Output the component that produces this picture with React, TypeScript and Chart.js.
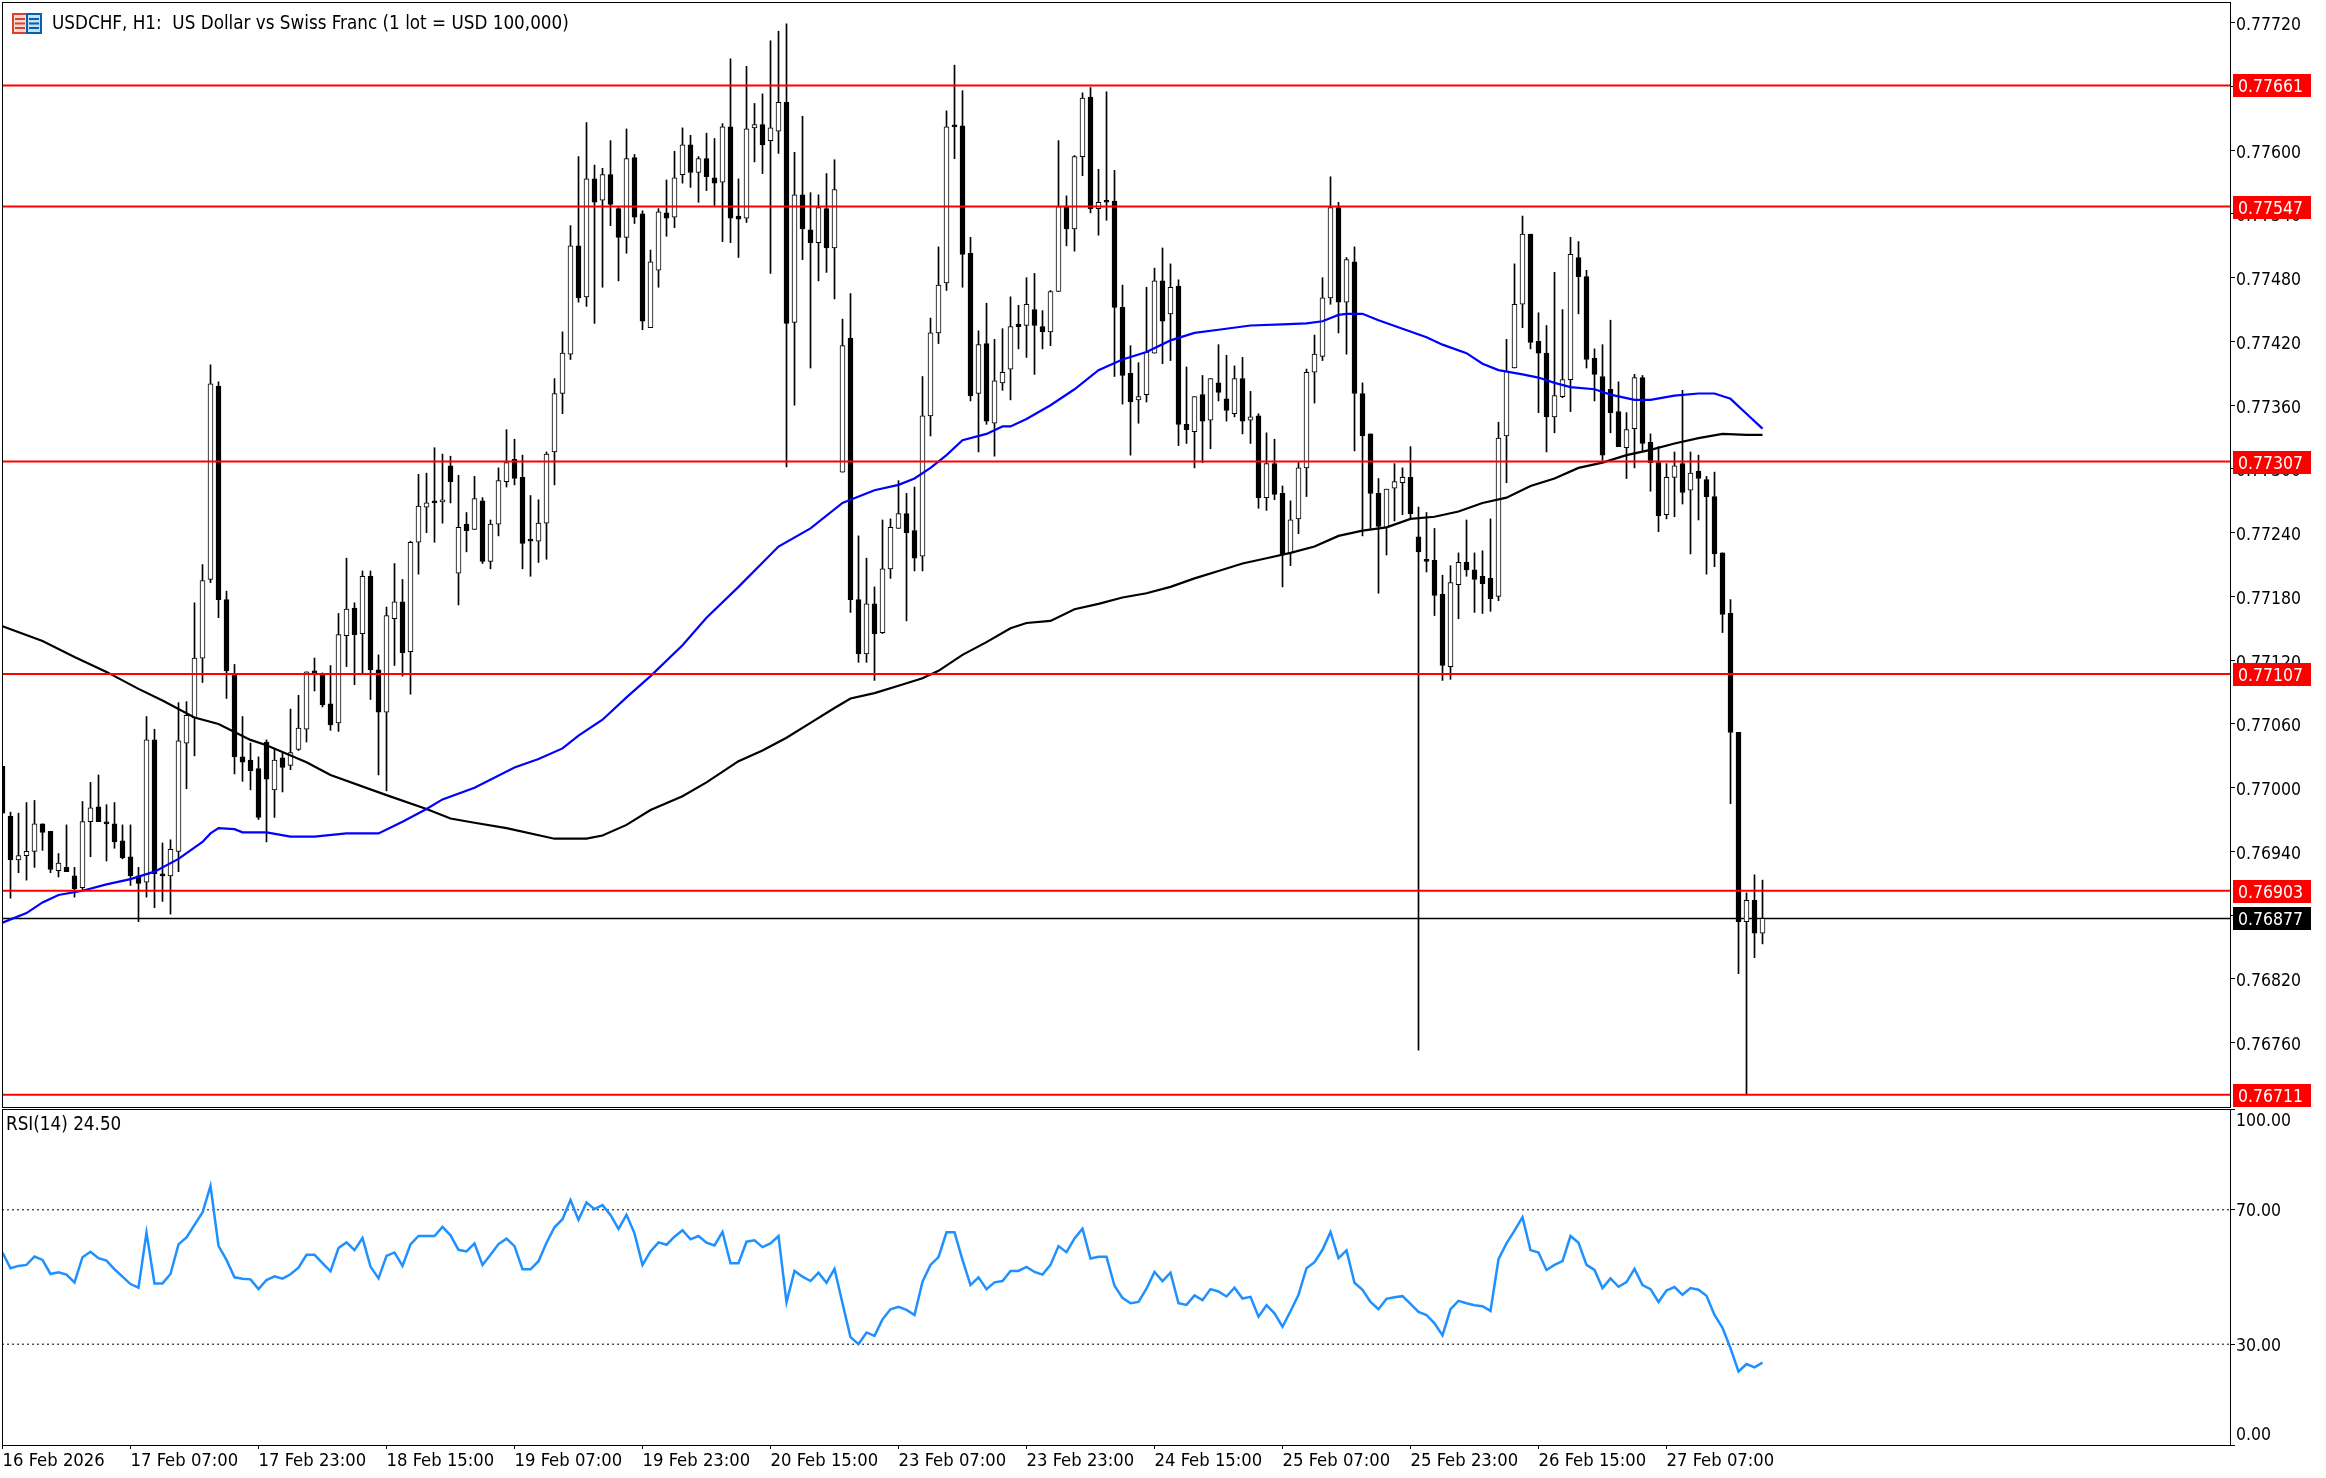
import React, { useEffect, useRef } from "react";
import { Chart, registerables } from "chart.js";

Chart.register(...registerables);

// Prices are kept in 1/100000 of a franc (77020 = 0.77020)
const opens = [
77020,76973,76932,76936,76940,76966,76959,76922,76925,76917,
76906,76968,76982,76967,76966,76950,76935,76917,76911,77045,
76919,76917,76940,77042,77066,77122,77196,77378,77177,77106,
77029,77026,77018,77043,76998,77028,77021,77036,77055,77109,
77107,77079,77061,77143,77169,77145,77199,77111,77071,77159,
77175,77128,77231,77264,77269,77269,77303,77202,77248,77243,
77270,77213,77248,77288,77309,77292,77233,77232,77249,77316,
77371,77408,77510,77462,77573,77553,77577,77545,77518,77593,
77540,77433,77487,77541,77537,77577,77605,77579,77592,77574,
77570,77622,77538,77536,77621,77624,77609,77618,77645,77438,
77558,77525,77513,77545,77508,77297,77423,77177,77126,77173,
77146,77206,77244,77258,77242,77218,77350,77428,77475,77623,
77623,77503,77371,77418,77343,77381,77394,77436,77435,77450,
77434,77429,77467,77547,77526,77594,77650,77545,77552,77552,
77452,77390,77365,77370,77409,77477,77446,77472,77342,77335,
77370,77346,77381,77366,77352,77385,77346,77350,77273,77305,
77277,77221,77253,77301,77391,77406,77461,77546,77457,77495,
77371,77333,77277,77245,77282,77287,77292,77236,77214,77214,
77182,77114,77191,77212,77205,77199,77197,77180,77331,77395,
77455,77521,77420,77409,77349,77368,77384,77499,77481,77404,
77387,77375,77354,77320,77338,77386,77325,77306,77257,77292,
77305,77280,77298,77290,77274,77221,77164,77052,76874,76894,
76863];

const closes = [
76976,76932,76936,76940,76966,76958,76923,76929,76921,76905,
76968,76981,76968,76966,76949,76934,76917,76910,77045,76919,
76917,76942,77044,77068,77122,77195,77380,77177,77110,77029,
77024,77016,76972,77008,77026,77019,77033,77056,77109,77108,
77078,77059,77144,77168,77144,77199,77111,77071,77162,77175,
77127,77231,77265,77268,77268,77270,77288,77245,77242,77272,
77213,77248,77289,77306,77291,77230,77232,77249,77314,77371,
77409,77510,77461,77573,77551,77577,77549,77518,77592,77537,
77439,77495,77542,77536,77574,77605,77579,77592,77575,77569,
77622,77536,77535,77620,77624,77605,77621,77645,77437,77558,
77526,77513,77546,77508,77563,77416,77177,77126,77173,77145,
77206,77245,77258,77240,77216,77350,77428,77473,77622,77622,
77502,77369,77417,77345,77383,77391,77434,77434,77455,77435,
77429,77467,77547,77526,77594,77649,77545,77551,77551,77452,
77388,77363,77368,77410,77477,77439,77471,77342,77337,77368,
77345,77385,77372,77355,77385,77345,77349,77273,77305,77276,
77220,77252,77301,77391,77408,77461,77546,77457,77497,77371,
77331,77277,77246,77281,77288,77292,77258,77222,77213,77181,
77115,77193,77212,77205,77196,77192,77178,77329,77392,77455,
77521,77419,77409,77349,77369,77384,77502,77481,77403,77389,
77313,77353,77321,77337,77386,77324,77306,77256,77292,77303,
77278,77296,77291,77274,77220,77163,77052,76874,76894,76863,
76877];

const highs = [
77020,76977,76976,76986,76988,76966,76959,76938,76965,76925,
76987,77005,77012,76984,76986,76965,76965,76925,77067,77055,
76948,76951,77080,77081,77174,77210,77398,77382,77185,77116,
77067,77042,77029,77045,77037,77033,77074,77087,77109,77122,
77108,77115,77164,77216,77174,77204,77204,77125,77170,77211,
77196,77232,77295,77296,77320,77314,77312,77294,77259,77293,
77273,77252,77301,77337,77328,77313,77275,77271,77316,77385,
77429,77529,77594,77626,77586,77583,77609,77546,77620,77596,
77543,77506,77545,77572,77599,77621,77614,77594,77616,77611,
77625,77686,77573,77679,77644,77653,77703,77712,77719,77598,
77632,77560,77558,77578,77591,77441,77465,77237,77216,77189,
77252,77253,77289,77277,77283,77387,77442,77509,77637,77680,
77656,77518,77430,77456,77422,77432,77462,77454,77480,77484,
77449,77468,77609,77557,77595,77654,77659,77582,77655,77581,
77473,77416,77400,77471,77489,77508,77493,77478,77396,77368,
77388,77385,77417,77407,77397,77405,77373,77352,77334,77328,
77284,77270,77306,77394,77426,77480,77575,77551,77499,77509,
77381,77333,77291,77281,77305,77301,77321,77264,77259,77244,
77200,77209,77221,77252,77221,77223,77253,77344,77422,77493,
77538,77521,77447,77435,77485,77450,77518,77514,77487,77413,
77417,77440,77382,77353,77389,77388,77333,77321,77305,77316,
77374,77316,77313,77293,77297,77221,77177,77052,76901,76918,
76913];

const lows = [
76976,76896,76920,76913,76925,76941,76920,76916,76921,76897,
76903,76935,76968,76931,76943,76933,76908,76874,76897,76887,
76893,76881,76921,76999,77030,77099,77193,77160,77084,77013,
77006,76998,76970,76949,76972,76996,77017,77035,77043,77091,
77076,77054,77053,77114,77097,77108,77083,77012,76997,77115,
77105,77088,77201,77240,77231,77249,77268,77172,77222,77243,
77211,77206,77237,77283,77285,77206,77199,77212,77215,77285,
77352,77403,77457,77453,77437,77471,77529,77477,77503,77531,
77431,77433,77471,77519,77527,77569,77565,77551,77562,77548,
77514,77513,77499,77532,77589,77578,77484,77597,77302,77360,
77497,77395,77477,77485,77460,77297,77165,77118,77118,77101,
77145,77197,77244,77157,77204,77204,77331,77418,77468,77592,
77471,77364,77316,77342,77312,77374,77365,77413,77405,77389,
77413,77416,77467,77510,77505,77576,77541,77520,77534,77387,
77361,77313,77343,77363,77409,77399,77402,77322,77324,77301,
77306,77319,77364,77345,77349,77333,77324,77263,77261,77271,
77189,77209,77239,77274,77362,77402,77455,77428,77408,77317,
77237,77244,77183,77219,77251,77257,77253,76753,77203,77162,
77101,77102,77159,77199,77165,77164,77166,77176,77287,77395,
77433,77413,77353,77316,77334,77367,77354,77446,77395,77364,
77308,77334,77321,77291,77301,77316,77279,77241,77253,77255,
77267,77220,77252,77201,77208,77146,76985,76825,76711,76840,
76853];

const blueMaBars = [0,3,5,7,10,13,16,19,22,25,26,27,29,30,33,36,39,43,47,50,53,55,59,64,67,70,72,75,78,81,85,88,92,97,101,105,106,109,112,114,116,118,120,123,125,126,128,131,134,137,140,143,146,149,152,156,160,163,165,167,168,170,172,175,178,180,183,185,187,190,192,194,196,199,201,204,206,209,212,214,216,218,220];
const blueMaValues = [76873,76882,76892,76899,76903,76909,76914,76921,76933,76949,76957,76962,76961,76958,76958,76954,76954,76957,76957,76968,76980,76989,77000,77019,77027,77037,77049,77064,77085,77105,77134,77160,77189,77227,77244,77268,77271,77280,77285,77291,77301,77313,77327,77333,77340,77340,77347,77360,77375,77393,77403,77410,77421,77428,77431,77435,77436,77437,77439,77445,77446,77446,77440,77432,77424,77417,77409,77399,77393,77389,77386,77381,77377,77375,77370,77365,77365,77369,77371,77371,77366,77352,77338];

const blackMaBars = [0,5,9,13,17,20,24,27,31,33,38,41,48,53,56,59,63,69,73,75,78,81,85,88,92,95,98,101,104,106,109,112,115,117,120,123,126,128,131,134,137,140,143,146,149,152,155,158,161,164,167,170,173,176,179,182,185,188,191,194,197,200,203,206,209,212,215,218,220];
const blackMaValues = [77152,77138,77123,77109,77093,77082,77066,77060,77045,77040,77024,77012,76993,76980,76971,76967,76962,76952,76952,76955,76965,76979,76992,77005,77025,77035,77047,77061,77075,77084,77089,77096,77103,77110,77125,77137,77150,77155,77157,77168,77173,77179,77183,77189,77197,77204,77211,77216,77221,77227,77237,77242,77245,77253,77255,77260,77268,77273,77284,77291,77301,77306,77313,77318,77324,77329,77333,77332,77332];

const rsiValues = [
57.3,52.6,53.3,53.6,56.1,55.1,50.9,51.4,50.7,48.4,
55.9,57.5,55.6,54.9,52.3,50.1,47.9,46.8,63.2,48.1,
48.1,50.9,59.7,61.8,65.5,69.2,77.1,59.3,55.1,49.9,
49.5,49.3,46.4,49.1,50.2,49.5,50.8,52.8,56.6,56.6,
54.1,51.7,58.6,60.3,58.0,61.6,53.1,49.6,56.3,57.3,
53.3,59.7,62.2,62.2,62.2,64.9,62.4,58.1,57.6,60.0,
53.6,56.6,59.8,61.4,59.2,52.3,52.3,54.7,60.2,64.8,
67.2,72.9,67.0,72.2,70.2,71.4,68.5,64.3,68.5,63.0,
53.6,57.6,60.3,59.6,62.0,63.9,61.2,62.2,60.2,59.4,
63.4,54.1,54.1,60.5,60.9,58.9,60.0,62.2,42.5,51.8,
50.1,48.8,51.3,48.3,52.4,42.2,32.1,30.0,33.5,32.5,
37.4,40.4,41.1,40.2,38.7,48.6,53.6,55.9,63.3,63.3,
55.1,47.6,49.9,46.4,48.4,48.8,51.8,51.8,53.0,51.5,
50.7,53.6,59.2,57.4,61.5,64.4,55.5,56.0,56.0,47.4,
43.8,42.2,42.6,46.5,51.5,48.8,51.3,42.2,41.7,44.5,
43.1,46.4,45.7,44.2,46.8,43.6,44.1,38.2,41.6,39.2,
35.2,39.8,44.7,52.6,54.4,58.1,63.4,55.6,57.9,48.3,
46.2,42.6,40.4,43.5,44.0,44.3,42.0,39.6,38.7,36.2,
32.6,40.4,42.9,42.2,41.6,41.3,39.9,55.3,60.0,63.8,
67.8,58.0,57.3,52.1,53.6,54.7,62.2,60.2,53.6,52.1,
46.7,49.6,47.1,48.5,52.4,47.6,46.4,42.6,46.0,47.0,
44.7,46.7,46.2,44.4,38.7,34.9,28.8,21.9,24.1,23.1,
24.5];

const redLevels = [0.77661, 0.77547, 0.77307, 0.77107, 0.76903, 0.76711];
const lastPrice = 0.76877;
const priceTicks = [0.7772,0.7766,0.776,0.7754,0.7748,0.7742,0.7736,0.773,0.7724,0.7718,0.7712,0.7706,0.77,0.7694,0.7688,0.7682,0.7676];
const rsiTicks = [100, 70, 30, 0];
const rsiLevels = [70, 30];
const timeLabels = ["16 Feb 2026","17 Feb 07:00","17 Feb 23:00","18 Feb 15:00","19 Feb 07:00","19 Feb 23:00","20 Feb 15:00","23 Feb 07:00","23 Feb 23:00","24 Feb 15:00","25 Feb 07:00","25 Feb 23:00","26 Feb 15:00","27 Feb 07:00"];
const barsPerLabel = 16;
const titleText = "USDCHF, H1:  US Dollar vs Swiss Franc (1 lot = USD 100,000)";
const rsiText = "RSI(14) 24.50";

const FONT = '"DejaVu Sans Condensed", "DejaVu Sans"';
const TICK_SIZE = 17.5;
const LABEL_SIZE = 18.3;
const TITLE_SIZE = 18.7;
const X_MIN = -0.0625;
const X_MAX = X_MIN + 2228 / 8;
const PRICE_MAX = 0.77739482;
const PRICE_MIN = 0.76699482;
const WIDTH = 2326;
const toPrice = (v: number) => v / 100000;

function line(data: any[], color: string, width: number, order: number, dash?: number[]) {
  return { type: "line", data, borderColor: color, borderWidth: width, pointRadius: 0, tension: 0, order, borderDash: dash || [], parsing: { xAxisKey: "x", yAxisKey: "y" }, borderCapStyle: "butt" };
}

function frame(ctx: any, a: any) {
  ctx.save();
  ctx.strokeStyle = "#000";
  ctx.lineWidth = 1;
  ctx.strokeRect(Math.floor(a.left) + 0.5, Math.floor(a.top) + 0.5, Math.round(a.right - a.left), Math.round(a.bottom - a.top));
  ctx.restore();
}

const mainOverlay = {
  id: "mainOverlay",
  afterDraw(chart: any) {
    const { ctx, chartArea, scales } = chart;
    frame(ctx, chartArea);
    ctx.save();
    ctx.font = `${TICK_SIZE}px ${FONT}`;
    ctx.textBaseline = "middle";
    const tag = (v: number, bg: string) => {
      const y = scales.y.getPixelForValue(v);
      ctx.fillStyle = bg;
      ctx.fillRect(2233, Math.round(y) - 11, 78, 23);
      ctx.fillStyle = "#fff";
      ctx.textAlign = "left";
      ctx.fillText(v.toFixed(5), 2238, y + 2.5);
    };
    tag(lastPrice, "#000");
    redLevels.forEach((v) => tag(v, "#ff0000"));
    // header icon
    ctx.fillStyle = "#fbd9d0"; ctx.fillRect(13, 14, 14, 19);
    ctx.fillStyle = "#bde3fa"; ctx.fillRect(27, 14, 14, 19);
    ctx.strokeStyle = "#d8402f"; ctx.lineWidth = 2; ctx.strokeRect(13, 14, 14, 19);
    ctx.strokeStyle = "#0a5fa8"; ctx.strokeRect(27, 14, 14, 19);
    ctx.fillStyle = "#d8402f";
    [18, 22.5, 27].forEach((y) => ctx.fillRect(15, y, 10, 2));
    ctx.fillStyle = "#0a5fa8";
    [18, 22.5, 27].forEach((y) => ctx.fillRect(29, y, 10, 2));
    // header text
    ctx.font = `${TITLE_SIZE}px ${FONT}`;
    ctx.fillStyle = "#000";
    ctx.fillText(titleText, 52, 24);
    ctx.restore();
  },
};

const rsiOverlay = {
  id: "rsiOverlay",
  afterDraw(chart: any) {
    const { ctx, chartArea, scales } = chart;
    frame(ctx, chartArea);
    ctx.save();
    ctx.fillStyle = "#000";
    ctx.textAlign = "left";
    ctx.textBaseline = "middle";
    ctx.font = `${TITLE_SIZE}px ${FONT}`;
    ctx.fillText(rsiText, 6, 17);
    ctx.font = `${TICK_SIZE}px ${FONT}`;
    rsiTicks.forEach((t) => {
      const shift = t === 100 ? 12 : t === 0 ? -10 : 2;
      ctx.fillText(t.toFixed(2), 2236, scales.y.getPixelForValue(t) + shift);
    });
    ctx.restore();
  },
};

export default function App() {
  const mainRef = useRef<HTMLCanvasElement>(null);
  const rsiRef = useRef<HTMLCanvasElement>(null);

  useEffect(() => {
    const bars = opens.map((_, i) => i);
    const isUp = (i: number) => closes[i] > opens[i];
    const main = new Chart(mainRef.current as any, {
      type: "bar",
      data: {
        datasets: [
          line([{ x: X_MIN, y: lastPrice }, { x: X_MAX, y: lastPrice }], "#000", 1.5, 6),
          { type: "bar", data: bars.map((i) => ({ x: i, y: [toPrice(lows[i]), toPrice(highs[i])] })), backgroundColor: "#000", barThickness: 1, grouped: false, order: 4, borderWidth: 0 },
          { type: "bar", data: bars.map((i) => ({ x: i, y: [toPrice(opens[i]), toPrice(closes[i])] })), backgroundColor: bars.map((i) => (isUp(i) ? "#fff" : "#000")), borderColor: "#000", borderWidth: 1, borderSkipped: false, barThickness: 5, minBarLength: 2, grouped: false, order: 3 },
          line(blueMaBars.map((b, i) => ({ x: b, y: toPrice(blueMaValues[i]) })), "#0000ff", 2.2, 2),
          line(blackMaBars.map((b, i) => ({ x: b, y: toPrice(blackMaValues[i]) })), "#000000", 2.2, 2),
          ...redLevels.map((v) => line([{ x: X_MIN, y: v }, { x: X_MAX, y: v }], "#ff0000", 2, 1)),
        ] as any,
      },
      options: {
        responsive: false,
        animation: false,
        devicePixelRatio: 1,
        layout: { autoPadding: false, padding: { left: 2, top: 2, right: 0, bottom: 1 } },
        plugins: { legend: { display: false }, tooltip: { enabled: false } },
        scales: {
          x: { type: "linear", min: X_MIN, max: X_MAX, offset: false, display: false },
          y: {
            position: "right", min: PRICE_MIN, max: PRICE_MAX,
            afterBuildTicks: (s: any) => { s.ticks = priceTicks.map((value) => ({ value })); },
            afterFit: (s: any) => { s.width = 96; s.paddingTop = 0; s.paddingBottom = 0; },
            grid: { drawOnChartArea: false, tickLength: 5, color: "#000" },
            border: { display: false },
            ticks: { font: { family: FONT, size: TICK_SIZE }, color: "#000", padding: 1, labelOffset: 3, callback: (v: any) => Number(v).toFixed(5) },
          },
        },
      } as any,
      plugins: [mainOverlay],
    });

    const rsi = new Chart(rsiRef.current as any, {
      type: "line",
      data: {
        datasets: [
          ...rsiLevels.map((v) => line([{ x: X_MIN, y: v }, { x: X_MAX, y: v }], "#000", 1, 2, [2, 3])),
          line(rsiValues.map((v, i) => ({ x: i, y: v })), "#1e90ff", 2.5, 1),
        ] as any,
      },
      options: {
        responsive: false,
        animation: false,
        devicePixelRatio: 1,
        layout: { autoPadding: false, padding: { left: 2, top: 1, right: 0, bottom: 0 } },
        plugins: { legend: { display: false }, tooltip: { enabled: false } },
        scales: {
          x: {
            type: "linear", min: X_MIN, max: X_MAX,
            afterBuildTicks: (s: any) => { s.ticks = timeLabels.map((_, k) => ({ value: k * barsPerLabel })); },
            afterFit: (s: any) => { s.height = 33; s.paddingLeft = 0; s.paddingRight = 0; },
            afterTickToLabelConversion: (s: any) => { s.ticks.forEach((t: any, k: number) => { t.label = timeLabels[k]; }); },
            grid: { drawOnChartArea: false, tickLength: 4, color: "#000" },
            border: { display: false },
            ticks: { font: { family: FONT, size: LABEL_SIZE }, color: "#000", align: "start", autoSkip: false, maxRotation: 0, minRotation: 0, padding: 1 },
          },
          y: {
            position: "right", min: 0, max: 100,
            afterBuildTicks: (s: any) => { s.ticks = rsiTicks.map((value) => ({ value })); },
            afterFit: (s: any) => { s.width = 96; s.paddingTop = 0; s.paddingBottom = 0; },
            grid: { drawOnChartArea: false, tickLength: 5, color: "#000" },
            border: { display: false },
            ticks: { display: false },
          },
        },
      } as any,
      plugins: [rsiOverlay],
    });
    return () => { main.destroy(); rsi.destroy(); };
  }, []);

  return (
    <div style={{ position: "absolute", left: 0, top: 0, width: WIDTH, height: 1478, background: "#fff", overflow: "hidden" }}>
      <canvas ref={mainRef} width={WIDTH} height={1108} style={{ position: "absolute", left: 0, top: 0, display: "block" }} />
      <canvas ref={rsiRef} width={WIDTH} height={370} style={{ position: "absolute", left: 0, top: 1108, display: "block" }} />
    </div>
  );
}
